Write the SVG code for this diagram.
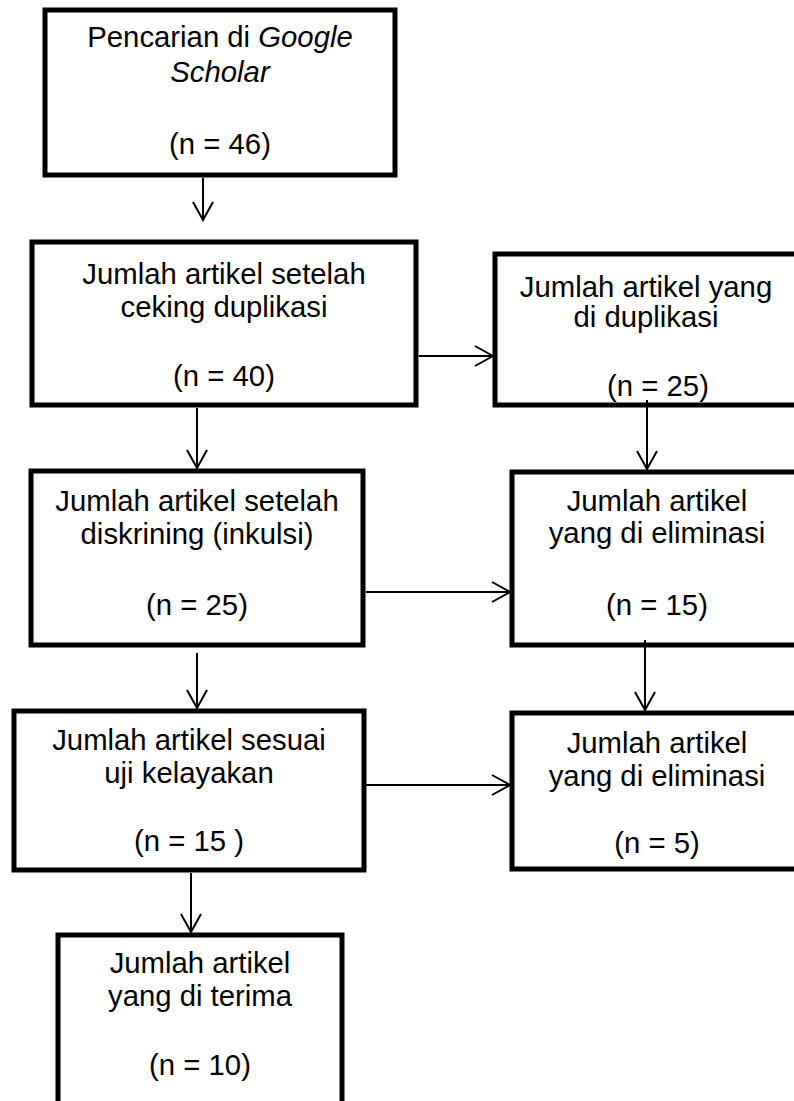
<svg xmlns="http://www.w3.org/2000/svg" width="794" height="1101" viewBox="0 0 794 1101">
<style>
.box{fill:#fff;stroke:#000;stroke-width:5}
.t{font-family:"Liberation Sans",Arial,sans-serif;font-size:29.3px;fill:#000;text-anchor:middle}
.c{stroke:#000;stroke-width:2;fill:none}
</style>
<defs>
<marker id="arr" viewBox="-1 -11 21 22" refX="18" refY="0" markerWidth="21" markerHeight="22" markerUnits="userSpaceOnUse" orient="auto">
<path d="M0,-10 L18,0 L0,10" fill="none" stroke="#000" stroke-width="2"/>
</marker>
</defs>
<rect width="794" height="1101" fill="#fff"/>
<g id="node-search">
<rect class="box" x="45" y="10" width="350" height="165"/>
<text class="t" x="220" y="47">Pencarian di <tspan font-style="italic">Google</tspan></text>
<text class="t" x="220" y="82" font-style="italic">Scholar</text>
<text class="t" x="220" y="154">(n = 46)</text>
</g>
<g id="node-dedup">
<rect class="box" x="32" y="242" width="384" height="163"/>
<text class="t" x="224" y="284">Jumlah artikel setelah</text>
<text class="t" x="224" y="317">ceking duplikasi</text>
<text class="t" x="224" y="386">(n = 40)</text>
</g>
<g id="node-duplicates">
<rect class="box" x="495" y="254" width="310" height="151"/>
<text class="t" x="646" y="297">Jumlah artikel yang</text>
<text class="t" x="646" y="327">di duplikasi</text>
<text class="t" x="658" y="396">(n = 25)</text>
</g>
<g id="node-screened">
<rect class="box" x="31" y="471" width="332" height="174"/>
<text class="t" x="197" y="511">Jumlah artikel setelah</text>
<text class="t" x="197" y="544">diskrining (inkulsi)</text>
<text class="t" x="197" y="615">(n = 25)</text>
</g>
<g id="node-elim1">
<rect class="box" x="512" y="472" width="295" height="173"/>
<text class="t" x="657" y="511">Jumlah artikel</text>
<text class="t" x="657" y="543">yang di eliminasi</text>
<text class="t" x="657" y="615">(n = 15)</text>
</g>
<g id="node-eligible">
<rect class="box" x="14" y="711" width="350" height="159"/>
<text class="t" x="189" y="750">Jumlah artikel sesuai</text>
<text class="t" x="189" y="783">uji kelayakan</text>
<text class="t" x="189" y="851">(n = 15 )</text>
</g>
<g id="node-elim2">
<rect class="box" x="512" y="713" width="295" height="156"/>
<text class="t" x="657" y="753">Jumlah artikel</text>
<text class="t" x="657" y="786">yang di eliminasi</text>
<text class="t" x="657" y="853">(n = 5)</text>
</g>
<g id="node-accepted">
<rect class="box" x="58" y="935" width="284" height="200"/>
<text class="t" x="200" y="973">Jumlah artikel</text>
<text class="t" x="200" y="1006">yang di terima</text>
<text class="t" x="200" y="1075">(n = 10)</text>
</g>
<g id="connectors">
<line class="c" x1="203" y1="178" x2="203" y2="220" marker-end="url(#arr)"/>
<line class="c" x1="419" y1="356" x2="493" y2="356" marker-end="url(#arr)"/>
<line class="c" x1="197" y1="408" x2="197" y2="468" marker-end="url(#arr)"/>
<line class="c" x1="647" y1="400" x2="647" y2="469" marker-end="url(#arr)"/>
<line class="c" x1="366" y1="592" x2="510" y2="592" marker-end="url(#arr)"/>
<line class="c" x1="197" y1="653" x2="197" y2="708" marker-end="url(#arr)"/>
<line class="c" x1="645" y1="640" x2="645" y2="710" marker-end="url(#arr)"/>
<line class="c" x1="366" y1="785" x2="510" y2="785" marker-end="url(#arr)"/>
<line class="c" x1="191" y1="873" x2="191" y2="932" marker-end="url(#arr)"/>
</g>
</svg>
